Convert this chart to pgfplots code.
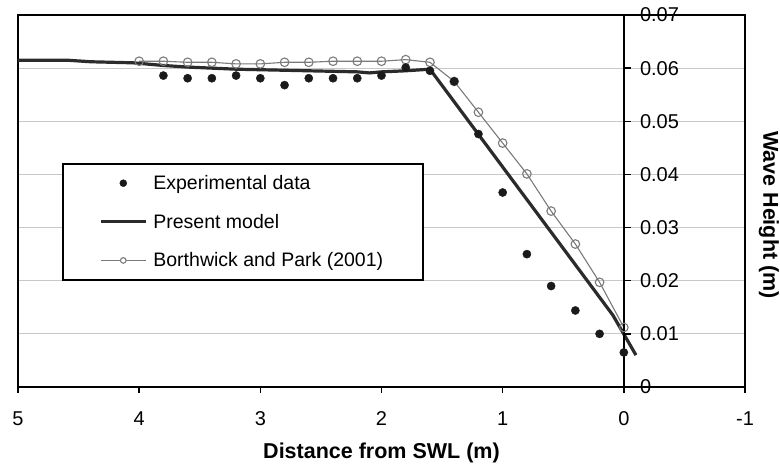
\documentclass[border=0pt]{standalone}
\usepackage{pgfplots}
\usepackage{pgfplotstable}
\pgfplotsset{compat=1.18}
\usepackage{fontspec}
\setmainfont{Liberation Sans}
\definecolor{expc}{HTML}{1A1A1A}
\definecolor{modc}{HTML}{2B2B2B}
\definecolor{bpc}{HTML}{7A7A7A}
\definecolor{gridc}{HTML}{C8C8C8}

\begin{document}
% Experimental data
\pgfplotstableread{
x    h
3.8  0.0586
3.6  0.0581
3.4  0.0581
3.2  0.0586
3.0  0.0581
2.8  0.0568
2.6  0.0581
2.4  0.0581
2.2  0.0581
2.0  0.0586
1.8  0.0601
1.6  0.0595
1.4  0.0575
1.2  0.0476
1.0  0.0366
0.8  0.0250
0.6  0.0190
0.4  0.0144
0.2  0.0100
0.0  0.0065
}\expdata
% Present model
\pgfplotstableread{
x     h
5.0   0.0615
4.6   0.0615
4.4   0.0612
4.05  0.0610
3.8   0.0605
3.6   0.0602
3.2   0.0598
3.0   0.0597
2.6   0.0595
2.2   0.0593
2.1   0.0591
2.0   0.0593
1.8   0.0595
1.6   0.0598
0.09  0.0135
-0.1  0.0060
}\modeldata
% Borthwick and Park (2001)
\pgfplotstableread{
x     h
4.0   0.0613
3.8   0.0613
3.6   0.0611
3.4   0.0611
3.2   0.0608
3.0   0.0608
2.8   0.0611
2.6   0.0611
2.4   0.0613
2.2   0.0613
2.0   0.0613
1.8   0.0616
1.6   0.0611
1.4   0.0575
1.2   0.0517
1.0   0.0459
0.8   0.0401
0.6   0.0331
0.4   0.0269
0.2   0.0197
0.0   0.0112
}\bpdata
\begin{tikzpicture}
\begin{axis}[
  name=main,
  scale only axis, width=727pt, height=372pt,
  x dir=reverse, xmin=-1, xmax=5, ymin=0, ymax=0.07,
  xtick={-1,0,1,2,3,4,5}, xticklabels={-1,0,1,2,3,4,5},
  xtick pos=bottom, tick align=outside, major tick length=6pt,
  x tick style={black, line width=1.4pt},
  x tick label style={font=\fontsize{20}{23}\selectfont, yshift=-15pt},
  ytick={0,0.01,0.02,0.03,0.04,0.05,0.06,0.07},
  scaled y ticks=false,
  yticklabels={}, y tick style={draw=none},
  ymajorgrids, grid style={draw=gridc, line width=1.2pt},
  axis line style={line width=1.6pt, black},
  clip=false,
  reverse legend,
  legend style={at={(0.0619,0.599)}, anchor=north west,
    draw=none, fill=none,
    inner xsep=36pt, inner ysep=9pt,
    font=\fontsize{19.5}{23}\selectfont,
    row sep=19pt, column sep=4pt,
    nodes={inner sep=2pt}},
  legend cell align=left,
]
% legend frame
\draw[black, fill=white, line width=1.2pt]
  (axis description cs:0.0619,0.2876) rectangle (axis description cs:0.5571,0.5995);
\addplot[bpc, line width=1.1pt, mark=o, mark size=4.3pt,
  mark options={fill=white, line width=1.1pt},
  legend image code/.code={
    \path[draw=none, fill=none] (0pt,-5pt) rectangle (45pt,5pt);
    \draw[bpc, line width=1.1pt] (0pt,0pt) -- (45pt,0pt);
    \draw[bpc, fill=white, line width=1.1pt] (22.5pt,0pt) circle (2.8pt);}]
  table[x=x, y=h] {\bpdata};
\addlegendentry{Borthwick and Park (2001)}
\addplot[modc, line width=3.2pt, line join=round,
  legend image code/.code={
    \path[draw=none, fill=none] (0pt,-5pt) rectangle (45pt,5pt);
    \draw[modc, line width=3.2pt] (0pt,0pt) -- (45pt,0pt);}]
  table[x=x, y=h] {\modeldata};
\addlegendentry{Present model}
\addplot[only marks, mark=*, mark size=4.1pt, expc, mark options={draw=expc, fill=expc},
  legend image code/.code={
    \path[draw=none, fill=none] (0pt,-5pt) rectangle (45pt,5pt);
    \fill[expc] (22.5pt,0pt) circle (3.5pt);}]
  table[x=x, y=h] {\expdata};
\addlegendentry{Experimental data}
% wave-height axis drawn at the still water line (x = 0)
\draw[black, line width=1.4pt] (axis cs:0,0) -- (axis cs:0,0.07);
\pgfplotsinvokeforeach{0,0.01,0.02,0.03,0.04,0.05,0.06,0.07}{
  \draw[black, line width=1.4pt] (axis cs:0,#1) -- ++(7pt,0pt);
  \node[anchor=west, inner sep=0pt, xshift=16pt,
    font=\fontsize{20}{23}\selectfont] at (axis cs:0,#1) {#1};
}
\end{axis}
\node[font=\fontsize{21.5}{24}\selectfont\bfseries] at ([yshift=-66pt]main.south) {Distance from SWL (m)};
\node[font=\fontsize{21.5}{24}\selectfont\bfseries, rotate=-90] at ([xshift=24pt,yshift=-14pt]main.east) {Wave Height (m)};
\pgfresetboundingbox
\path ([xshift=-18pt,yshift=-81pt]main.south west) rectangle ([xshift=35pt,yshift=15pt]main.north east);
\end{tikzpicture}
\end{document}
